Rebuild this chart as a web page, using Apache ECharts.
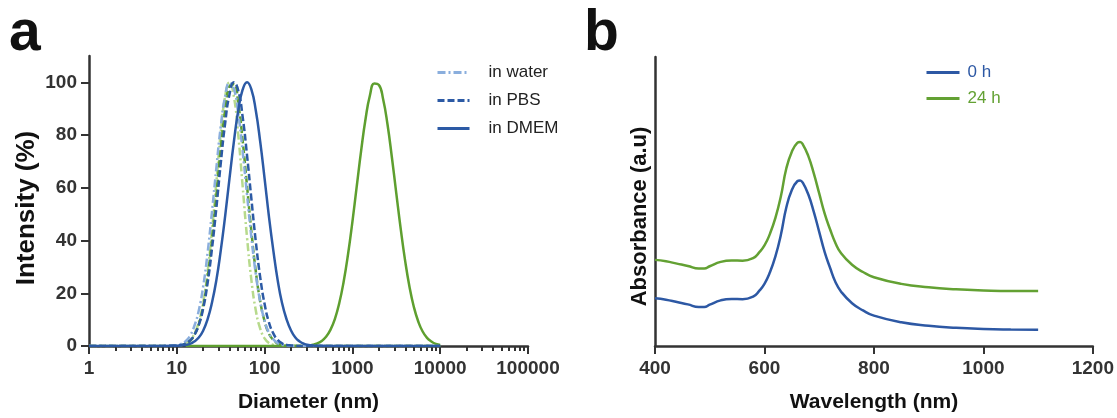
<!DOCTYPE html>
<html><head><meta charset="utf-8">
<script src="https://cdn.jsdelivr.net/npm/echarts@6/dist/echarts.min.js"></script>
<style>html,body{margin:0;padding:0;background:#fff}#c{width:1117px;height:418px}</style>
</head><body><div id="c"></div><script>
// ---------- Panel a: DLS size distribution ----------
const diameterNP = [1, 2, 5, 10, 11.2, 12.6, 14.1, 15.8, 17.8, 20, 22.4, 25.1, 28.2, 31.6, 35.5, 39.8, 44.7, 50.1, 56.2, 63.1, 70.8, 79.4, 89.1, 100, 112, 126, 141, 158, 178, 200, 224, 251, 282, 316, 355, 398, 500, 1000, 5000, 10000];
const waterBlue = [0, 0, 0, 0.3, 0.8, 1.8, 3.8, 7.5, 13.5, 22.7, 35.2, 50.6, 67.4, 83.0, 94.6, 99.8, 97.6, 88.2, 73.9, 57.3, 41.1, 27.3, 16.8, 9.6, 5.0, 2.5, 1.1, 0.5, 0.2, 0.1, 0, 0, 0, 0, 0, 0, 0, 0, 0, 0];
const pbsBlue = [0, 0, 0, 0.1, 0.4, 0.9, 2.0, 4.1, 8.0, 14.3, 23.8, 36.6, 52.3, 69.0, 84.4, 95.4, 100, 96.9, 87.0, 72.3, 55.6, 39.6, 26.1, 15.9, 9.0, 4.7, 2.3, 1.0, 0.4, 0.2, 0.1, 0, 0, 0, 0, 0, 0, 0, 0, 0];
const dmemBlue = [0, 0, 0, 0.1, 0.2, 0.4, 0.8, 1.7, 3.2, 5.9, 10.1, 16.3, 24.9, 36.0, 49.2, 63.5, 77.5, 89.3, 97.2, 100, 97.2, 89.3, 77.5, 63.5, 49.2, 36.0, 24.9, 16.3, 10.1, 5.9, 3.2, 1.7, 0.8, 0.4, 0.2, 0.1, 0, 0, 0, 0];
const waterGreen = [0, 0, 0, 0.1, 0.3, 0.8, 2.0, 4.5, 9.0, 16.5, 28.0, 43.5, 62.0, 80.5, 94.6, 100, 94.6, 80.1, 60.7, 41.1, 24.9, 13.5, 6.6, 2.9, 1.1, 0.4, 0.1, 0, 0, 0, 0, 0, 0, 0, 0, 0, 0, 0, 0, 0];
const pbsGreen = [0, 0, 0, 0.1, 0.3, 0.8, 1.9, 4.1, 8.2, 15.2, 25.8, 40.0, 57.1, 74.7, 89.5, 98.5, 99.3, 91.9, 78.0, 60.7, 43.3, 28.3, 17.0, 9.4, 4.7, 2.2, 0.9, 0.4, 0.1, 0, 0, 0, 0, 0, 0, 0, 0, 0, 0, 0];
const diameterAgg = [12.6, 200, 251, 282, 316, 355, 398, 447, 501, 562, 631, 708, 794, 891, 1000, 1122, 1259, 1413, 1585, 1778, 1995, 2239, 2512, 2818, 3162, 3548, 3981, 4467, 5012, 5623, 6310, 7079, 7943, 8913, 10000];
const dmemGreen = [0, 0, 0, 0.1, 0.2, 0.5, 1.0, 1.9, 3.5, 6.1, 10.2, 16.2, 24.3, 34.7, 47.1, 60.7, 74.2, 86.2, 95.1, 99.6, 99.1, 93.6, 84.0, 71.5, 57.9, 44.5, 32.5, 22.5, 14.8, 9.3, 5.5, 3.1, 1.7, 0.8, 0.4];
const intensityTicks = [0, 20, 40, 60, 80, 100];
const diameterTicks = [1, 10, 100, 1000, 10000, 100000];
const diameterMinorTicks = [2,3,4,5,6,7,8,9,20,30,40,50,60,70,80,90,200,300,400,500,600,700,800,900,2000,3000,4000,5000,6000,7000,8000,9000,20000,30000,40000,50000,60000,70000,80000,90000];
const legendA = ['in water', 'in PBS', 'in DMEM'];

// ---------- Panel b: UV-Vis absorbance ----------
const wavelength = [400,420,440,460,480,490,500,520,540,560,580,590,600,610,620,630,640,650,660,665,670,680,690,700,710,720,730,740,760,780,800,850,900,950,1000,1050,1100];
const abs0h = [0.165,0.160,0.152,0.144,0.135,0.135,0.143,0.158,0.163,0.162,0.172,0.190,0.215,0.255,0.310,0.385,0.480,0.540,0.570,0.573,0.565,0.525,0.465,0.395,0.325,0.270,0.220,0.188,0.148,0.123,0.105,0.082,0.070,0.063,0.059,0.057,0.056];
const abs24h = [0.298,0.293,0.285,0.277,0.268,0.268,0.276,0.291,0.296,0.295,0.305,0.323,0.348,0.388,0.443,0.518,0.615,0.672,0.703,0.706,0.698,0.658,0.598,0.528,0.458,0.403,0.355,0.321,0.281,0.256,0.238,0.215,0.203,0.196,0.192,0.190,0.190];
const wavelengthTicks = [400, 600, 800, 1000, 1200];
const legendB = ['0 h', '24 h'];

const zip = (xs, ys) => xs.map((x, i) => [x, ys[i]]);
const plain = v => String(v);

const FONT = '"Liberation Sans", Arial, Helvetica, sans-serif';
const AX = '#333333';
const LIGHTBLUE = '#8AAEDD', DARKBLUE = '#2C5AA5', LIGHTGREEN = '#B7DA8C', GREEN = '#5E9F2F';
const B_BLUE = '#2D58A4', B_GREEN = '#63A133';

const axisLine = { show: true, onZero: false, lineStyle: { color: AX, width: 2.5 } };
const tickStyle = { color: AX, width: 2 };
const tickLabel = { color: AX, fontFamily: FONT, fontWeight: 'bold', fontSize: 19, formatter: plain };
const nameStyle = { color: '#111', fontFamily: FONT, fontWeight: 'bold', fontSize: 21 };
const panelLetter = { fontFamily: FONT, fontWeight: 'bold', fontSize: 57, color: '#111' };

function lineSeries(name, data, color, type, xi, yi, z) {
  return {
    type: 'line', name, data, xAxisIndex: xi, yAxisIndex: yi,
    showSymbol: false, symbol: 'none', smooth: true, z: z,
    lineStyle: { color, width: 2.5, type },
    itemStyle: { color },
    emphasis: { disabled: true }
  };
}

const option = {
  animation: false,
  backgroundColor: '#ffffff',
  textStyle: { fontFamily: FONT },
  title: [
    { text: 'a', left: 9, top: 6, padding: 0, textStyle: panelLetter },
    { text: 'b', left: 584, top: 6, padding: 0, textStyle: panelLetter }
  ],
  grid: [
    { left: 89, top: 56, width: 439, height: 293.3, containLabel: false },
    { left: 655, top: 57, width: 439, height: 292, containLabel: false }
  ],
  legend: [
    {
      data: legendA, orient: 'vertical', left: 436, top: 64, padding: 0,
      itemWidth: 32, itemHeight: 14, itemGap: 11, selectedMode: false,
      itemStyle: { opacity: 0 }, lineStyle: { width: 3 },
      textStyle: { color: '#222', fontFamily: FONT, fontSize: 17, padding: [0, 0, 0, 14] }
    },
    {
      data: [
        { name: legendB[0], textStyle: { color: B_BLUE } },
        { name: legendB[1], textStyle: { color: B_GREEN } }
      ],
      orient: 'vertical', left: 925, top: 64, padding: 0,
      itemWidth: 33, itemHeight: 14, itemGap: 9, selectedMode: false,
      itemStyle: { opacity: 0 }, lineStyle: { width: 3 },
      textStyle: { fontFamily: FONT, fontSize: 17, padding: [0, 0, 0, 3] }
    }
  ],
  xAxis: [
    {
      type: 'log', gridIndex: 0, min: 1, max: 100000, logBase: 10,
      name: 'Diameter (nm)', nameLocation: 'middle', nameGap: 46, nameTextStyle: nameStyle,
      axisLine, axisTick: { show: true, length: 8, lineStyle: tickStyle, customValues: diameterTicks },
      axisLabel: Object.assign({ margin: 13, customValues: diameterTicks }, tickLabel),
      splitLine: { show: false }, minorTick: { show: false }
    },
    {
      type: 'log', gridIndex: 0, min: 1, max: 100000, logBase: 10, position: 'bottom',
      axisLine: { show: false },
      axisTick: { show: true, length: 5, lineStyle: tickStyle, customValues: diameterMinorTicks },
      axisLabel: { show: false }, splitLine: { show: false }
    },
    {
      type: 'value', gridIndex: 1, min: 400, max: 1200, interval: 200,
      name: 'Wavelength (nm)', nameLocation: 'middle', nameGap: 46, nameTextStyle: nameStyle,
      axisLine, axisTick: { show: true, length: 8, lineStyle: tickStyle, customValues: wavelengthTicks },
      axisLabel: Object.assign({ margin: 13, customValues: wavelengthTicks }, tickLabel),
      splitLine: { show: false }
    }
  ],
  yAxis: [
    {
      type: 'value', gridIndex: 0, min: 0, max: 110,
      name: 'Intensity (%)', nameLocation: 'middle', nameGap: 49,
      nameTextStyle: Object.assign({}, nameStyle, { fontSize: 26, padding: [0, 14, 0, 0] }),
      axisLine, axisTick: { show: true, length: 8, lineStyle: tickStyle, customValues: intensityTicks },
      axisLabel: Object.assign({ margin: 12, customValues: intensityTicks }, tickLabel),
      splitLine: { show: false }
    },
    {
      type: 'value', gridIndex: 1, min: 0, max: 1,
      name: 'Absorbance (a.u)', nameLocation: 'middle', nameGap: 4,
      nameTextStyle: Object.assign({}, nameStyle, { fontSize: 22, padding: [0, 30, 0, 0] }),
      axisLine, axisTick: { show: false }, axisLabel: { show: false },
      splitLine: { show: false }
    }
  ],
  series: [
    lineSeries('in water (green)', zip(diameterNP, waterGreen), LIGHTGREEN, [8, 3, 2, 3], 0, 0, 2),
    lineSeries('in PBS (green)', zip(diameterNP, pbsGreen), GREEN, [7, 3], 0, 0, 2),
    lineSeries('in DMEM (green)', zip(diameterAgg, dmemGreen), GREEN, 'solid', 0, 0, 2),
    lineSeries(legendA[0], zip(diameterNP, waterBlue), LIGHTBLUE, [8, 3, 2, 3], 0, 0, 3),
    lineSeries(legendA[1], zip(diameterNP, pbsBlue), DARKBLUE, [7, 3], 0, 0, 3),
    lineSeries(legendA[2], zip(diameterNP, dmemBlue), DARKBLUE, 'solid', 0, 0, 3),
    lineSeries(legendB[0], zip(wavelength, abs0h), B_BLUE, 'solid', 2, 1, 3),
    lineSeries(legendB[1], zip(wavelength, abs24h), B_GREEN, 'solid', 2, 1, 3)
  ]
};

const chart = echarts.init(document.getElementById('c'), null, { renderer: 'canvas' });
chart.setOption(option);
</script></body></html>
